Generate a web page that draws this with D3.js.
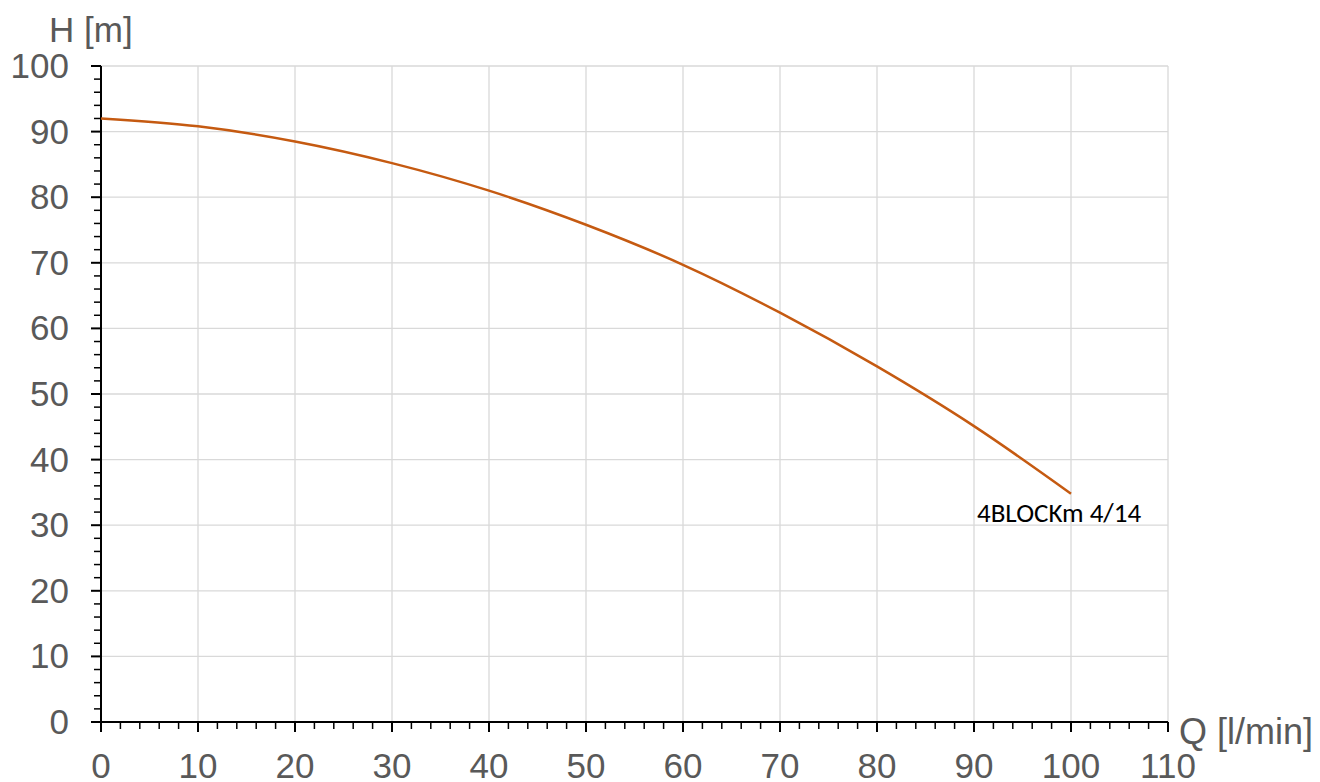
<!DOCTYPE html>
<html><head><meta charset="utf-8">
<script src="https://cdn.jsdelivr.net/npm/d3@7"></script>
<style>body{margin:0;background:#fff;} svg{display:block;}</style>
</head><body>
<script>
const flowQ = [0, 10, 20, 30, 40, 50, 60, 70, 80, 90, 100];
const headH = [92.0, 90.8, 88.5, 85.2, 81.0, 75.8, 69.7, 62.4, 54.2, 45.1, 34.8];
const seriesName = "4BLOCKm 4/14";
const xTicks = [0,10,20,30,40,50,60,70,80,90,100,110];
const yTicks = [0,10,20,30,40,50,60,70,80,90,100];

const W = 1320, H = 782;
const svg = d3.select("body").append("svg").attr("width", W).attr("height", H);
const x = d3.scaleLinear().domain([0,110]).range([101,1168]);
const y = d3.scaleLinear().domain([0,100]).range([722,66]);
const font = "'Liberation Sans', Arial, sans-serif";
const grey = "#595959";

// grid
svg.append("g").selectAll("line").data(xTicks.slice(1)).join("line")
  .attr("x1", d=>x(d)).attr("x2", d=>x(d)).attr("y1", y(0)).attr("y2", y(100))
  .attr("stroke", "#d9d9d9").attr("stroke-width", 1.3);
svg.append("g").selectAll("line").data(yTicks.slice(1)).join("line")
  .attr("x1", x(0)).attr("x2", x(110)).attr("y1", d=>y(d)).attr("y2", d=>y(d))
  .attr("stroke", "#d9d9d9").attr("stroke-width", 1.3);

// minor ticks
const xMinor = d3.range(0, 111, 2);
const yMinor = d3.range(0, 101, 2);
svg.append("g").selectAll("line").data(xMinor).join("line")
  .attr("x1", d=>x(d)).attr("x2", d=>x(d)).attr("y1", y(0)).attr("y2", d=> d%10===0 ? y(0)+10 : y(0)+7)
  .attr("stroke", "#000").attr("stroke-width", d=> d%10===0 ? 2 : 1.5);
svg.append("g").selectAll("line").data(yMinor).join("line")
  .attr("y1", d=>y(d)).attr("y2", d=>y(d)).attr("x1", x(0)).attr("x2", d=> d%10===0 ? x(0)-10 : x(0)-7)
  .attr("stroke", "#000").attr("stroke-width", d=> d%10===0 ? 2 : 1.5);

// axis lines
svg.append("line").attr("x1", x(0)).attr("x2", x(110)).attr("y1", y(0)).attr("y2", y(0)).attr("stroke","#000").attr("stroke-width",2);
svg.append("line").attr("x1", x(0)).attr("x2", x(0)).attr("y1", y(0)).attr("y2", y(100)).attr("stroke","#000").attr("stroke-width",2);

// tick labels
svg.append("g").selectAll("text").data(xTicks).join("text")
  .attr("x", d=>x(d)).attr("y", 778).attr("text-anchor","middle")
  .attr("font-family", font).attr("font-size", 35).attr("fill", grey).text(d=>d);
svg.append("g").selectAll("text").data(yTicks).join("text")
  .attr("x", 69).attr("y", d=>y(d)+12).attr("text-anchor","end")
  .attr("font-family", font).attr("font-size", 35).attr("fill", grey).text(d=>d);

// axis titles
svg.append("text").attr("x", 49).attr("y", 42).attr("font-family", font).attr("font-size", 35).attr("fill", grey).text("H [m]");
svg.append("text").attr("x", 1179).attr("y", 744).attr("font-family", font).attr("font-size", 36).attr("fill", grey).text("Q [l/min]");

// curve
const line = d3.line().x((d,i)=>x(flowQ[i])).y(d=>y(d)).curve(d3.curveMonotoneX);
svg.append("path").datum(headH).attr("d", line).attr("fill","none").attr("stroke","#C55A11").attr("stroke-width",2.5);

svg.append("text").attr("x", 977).attr("y", 522).attr("font-family", "Carlito, 'Open Sans', sans-serif")
  .attr("font-size", 27).attr("fill", "#000").text(seriesName);
</script>
</body></html>
